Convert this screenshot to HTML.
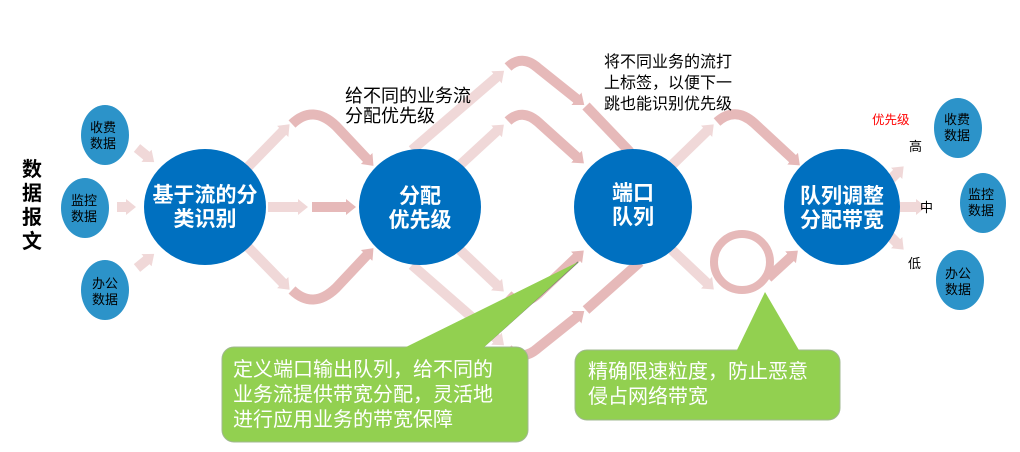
<!DOCTYPE html>
<html><head><meta charset="utf-8"><style>
body{margin:0;background:#fff;}
svg{display:block;font-family:"Liberation Sans","Noto Sans CJK SC",sans-serif;}
</style></head><body>
<svg width="1020" height="452" viewBox="0 0 1020 452">
<defs>
<marker id="al" markerWidth="12" markerHeight="16" refX="2" refY="8" orient="auto" markerUnits="userSpaceOnUse"><path d="M0,0 L10,8 L0,16 z" fill="#f0d8d8"/></marker>
<marker id="ad" markerWidth="12" markerHeight="16" refX="2" refY="8" orient="auto" markerUnits="userSpaceOnUse"><path d="M0,0 L10,8 L0,16 z" fill="#e6b9b9"/></marker>
</defs>
<g fill="none" stroke-width="10">
<path d="M137,148 L148,157" stroke="#f0d8d8" marker-end="url(#al)"/>
<path d="M117,207 L128,207" stroke="#f0d8d8" marker-end="url(#al)"/>
<path d="M137,268 L148,259" stroke="#f0d8d8" marker-end="url(#al)"/>
<path d="M245,170 L284,130" stroke="#f0d8d8" marker-end="url(#al)"/>
<path d="M292,124 Q313,104 336,126 L368,160" stroke="#e6b9b9" marker-end="url(#ad)"/>
<path d="M268,207 L300,207" stroke="#f0d8d8" marker-end="url(#al)"/>
<path d="M312,207 L348,207" stroke="#e6b9b9" marker-end="url(#ad)"/>
<path d="M245,244 L284,284" stroke="#f0d8d8" marker-end="url(#al)"/>
<path d="M292,290 Q313,310 336,288 L368,254" stroke="#e6b9b9" marker-end="url(#ad)"/>
<path d="M412,150 L498,76" stroke="#f0d8d8" marker-end="url(#al)"/>
<path d="M508,67 Q522,54 538,68 L578,100" stroke="#e6b9b9" marker-end="url(#ad)"/>
<path d="M586,106 L630,152" stroke="#e6b9b9"/>
<path d="M460,165 L498,130" stroke="#f0d8d8" marker-end="url(#al)"/>
<path d="M508,121 Q522,108 538,122 L578,158" stroke="#e6b9b9" marker-end="url(#ad)"/>
<path d="M460,250 L498,286" stroke="#f0d8d8" marker-end="url(#al)"/>
<path d="M508,295 Q522,308 538,294 L578,256" stroke="#e6b9b9" marker-end="url(#ad)"/>
<path d="M412,265 L498,340" stroke="#f0d8d8" marker-end="url(#al)"/>
<path d="M508,349 Q522,362 538,348 L578,316" stroke="#e6b9b9" marker-end="url(#ad)"/>
<path d="M586,310 L640,262" stroke="#e6b9b9"/>
<path d="M672,165 L708,130" stroke="#f0d8d8" marker-end="url(#al)"/>
<path d="M717,122 Q735,106 754,123 L794,160" stroke="#e6b9b9" marker-end="url(#ad)"/>
<path d="M672,250 L708,284" stroke="#f0d8d8" marker-end="url(#al)"/>
<circle cx="742" cy="262" r="28" stroke="#e6b9b9" stroke-width="8"/>
<path d="M768,278 L792,256" stroke="#e6b9b9" marker-end="url(#ad)"/>
<path d="M890,180 L898,172" stroke="#f0d8d8" marker-end="url(#al)"/>
<path d="M900,207 L918,207" stroke="#f0d8d8" marker-end="url(#al)"/>
<path d="M890,236 L898,244" stroke="#f0d8d8" marker-end="url(#al)"/>
</g>
<g fill="#2c93c9">
<ellipse cx="105" cy="135" rx="24" ry="30"/>
<ellipse cx="85" cy="208" rx="24" ry="30"/>
<ellipse cx="105" cy="290" rx="24" ry="30"/>
<ellipse cx="958" cy="128" rx="24" ry="30"/>
<ellipse cx="983" cy="203" rx="23" ry="30"/>
<ellipse cx="960" cy="280" rx="24" ry="30"/>
</g>
<g fill="#000" font-size="13" text-anchor="middle">
<text x="103" y="132">收费</text><text x="103" y="148">数据</text>
<text x="84" y="205">监控</text><text x="84" y="221">数据</text>
<text x="105" y="288">办公</text><text x="105" y="304">数据</text>
<text x="957" y="124">收费</text><text x="957" y="140">数据</text>
<text x="981" y="199">监控</text><text x="981" y="215">数据</text>
<text x="958" y="278">办公</text><text x="958" y="294">数据</text>
</g>
<g fill="#0070c0">
<ellipse cx="205" cy="207" rx="61" ry="58"/>
<ellipse cx="420" cy="207" rx="61" ry="58"/>
<ellipse cx="633" cy="207" rx="59" ry="58"/>
<ellipse cx="842" cy="207" rx="58" ry="58"/>
</g>
<g fill="#fff" font-size="21" font-weight="bold" text-anchor="middle">
<text x="205" y="202">基于流的分</text><text x="205" y="226">类识别</text>
<text x="420" y="203">分配</text><text x="420" y="227">优先级</text>
<text x="633" y="200">端口</text><text x="633" y="224">队列</text>
<text x="842" y="203">队列调整</text><text x="842" y="227">分配带宽</text>
</g>
<g font-size="20" font-weight="bold" fill="#000" text-anchor="middle">
<text x="32" y="176">数</text><text x="32" y="200">据</text><text x="32" y="224">报</text><text x="32" y="248">文</text>
</g>
<g fill="#000">
<text x="345" y="102" font-size="18">给不同的业务流</text><text x="345" y="122" font-size="18">分配优先级</text>
<text x="604" y="67" font-size="16">将不同业务的流打</text><text x="604" y="88" font-size="16">上标签，以便下一</text><text x="604" y="109" font-size="16">跳也能识别优先级</text>
</g>
<text x="872" y="124" font-size="12.5" fill="#ff0000">优先级</text>
<g font-size="13" fill="#000">
<text x="909" y="151">高</text><text x="920" y="212">中</text><text x="908" y="268">低</text>
</g>
<g fill="#92d050">
<path d="M578,262 L482,348" stroke="#777" stroke-width="1.5" fill="none"/>
<rect x="222" y="347" width="306" height="95" rx="12" stroke="#a0b890"/>
<path d="M402,349 L578,262 L482,349 Z"/>
<rect x="575" y="350" width="265" height="70" rx="12" stroke="#a0b890"/>
<path d="M736,352 L765,292 L800,352 Z"/>
</g>
<g fill="#fff" font-size="20">
<text x="233" y="376">定义端口输出队列，给不同的</text>
<text x="233" y="401">业务流提供带宽分配，灵活地</text>
<text x="233" y="426">进行应用业务的带宽保障</text>
<text x="588" y="378">精确限速粒度，防止恶意</text>
<text x="588" y="403">侵占网络带宽</text>
</g>
</svg>
</body></html>
